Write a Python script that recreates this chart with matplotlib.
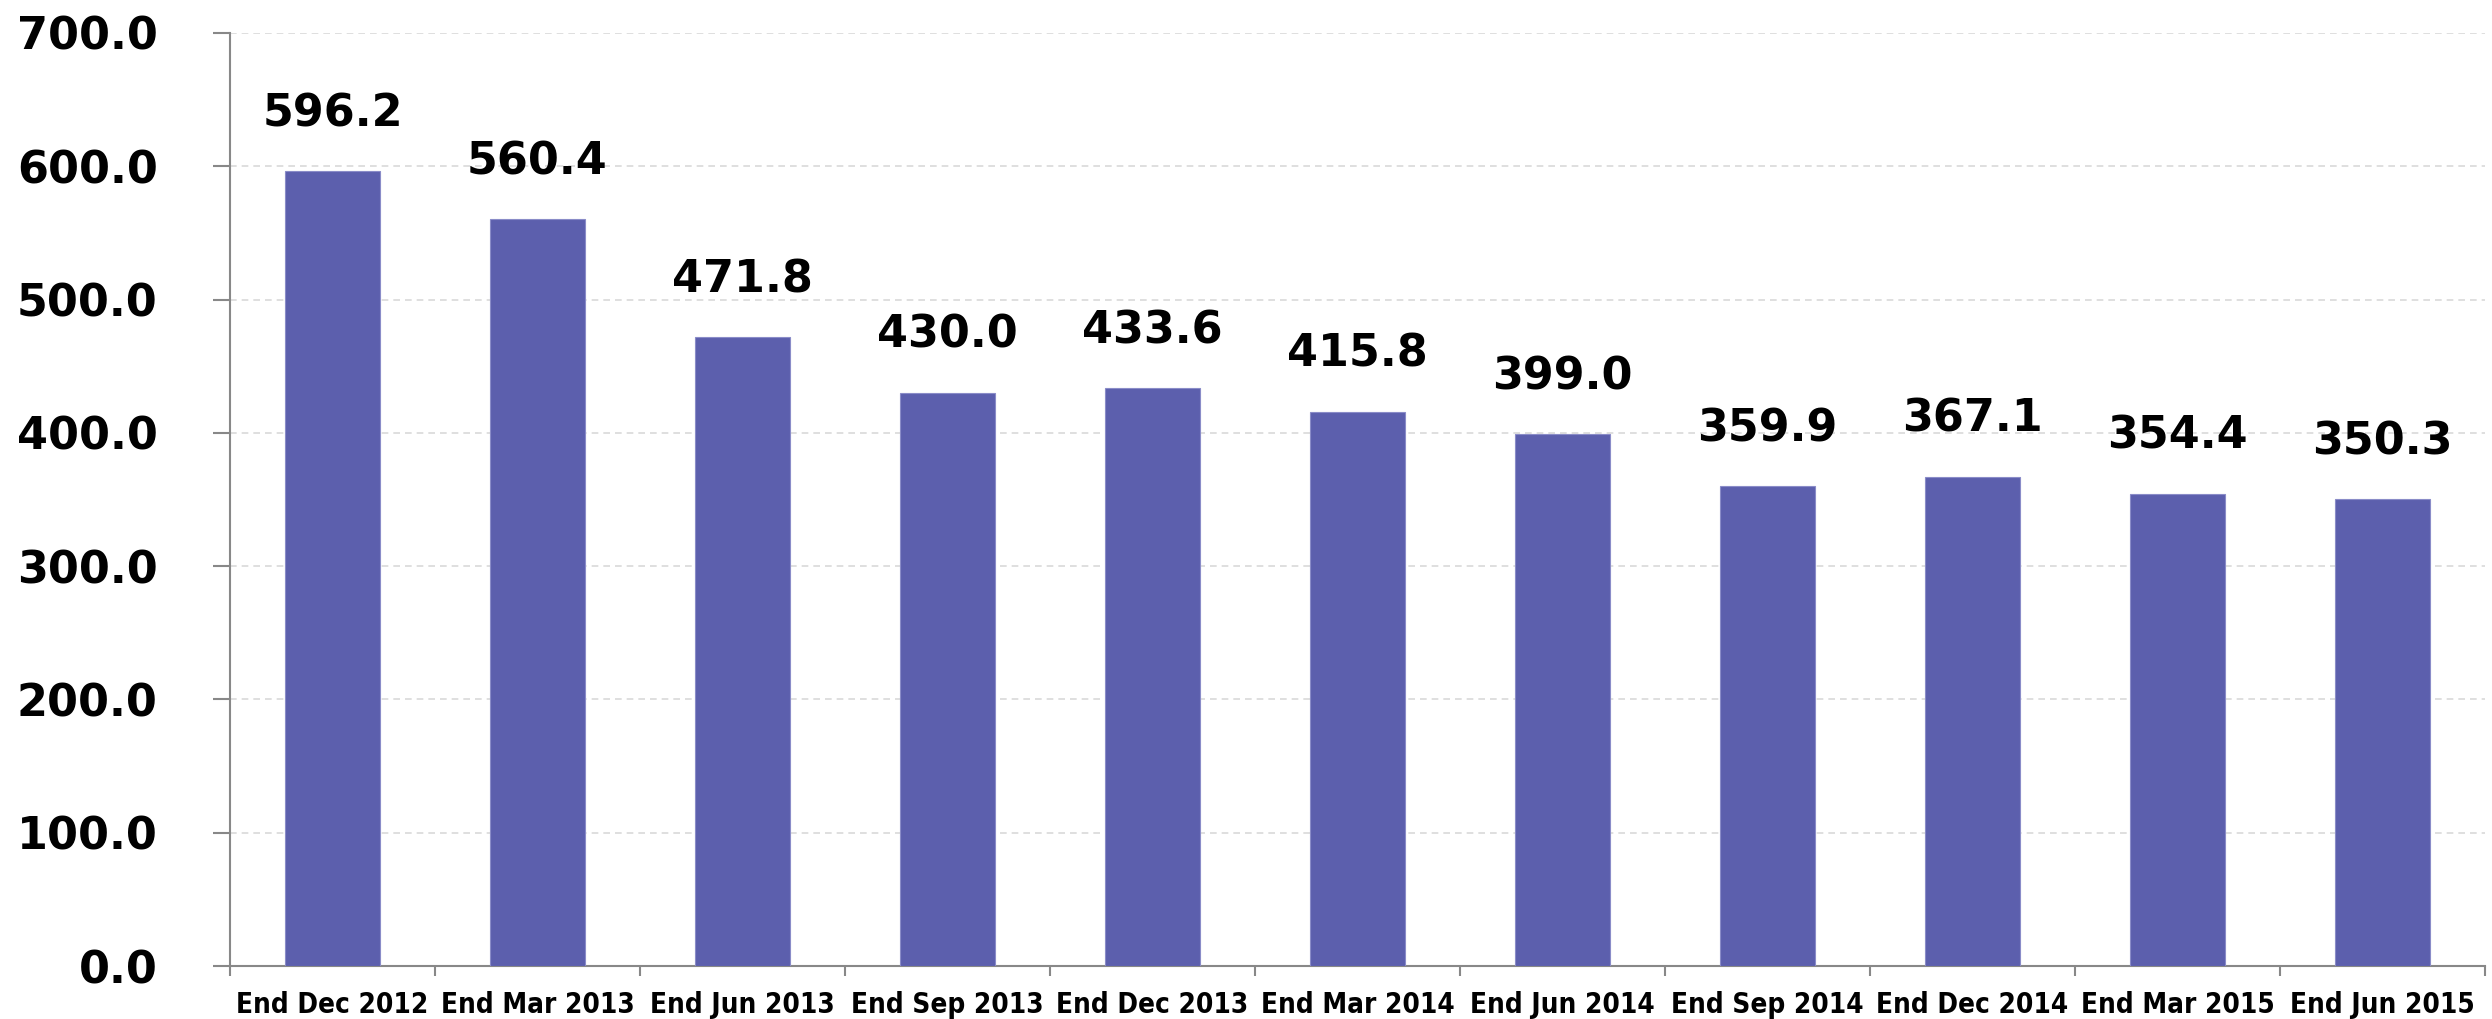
import matplotlib.pyplot as plt
import matplotlib.transforms as mtransforms
import numpy as np

# data
periods = ["End Dec 2012", "End Mar 2013", "End Jun 2013", "End Sep 2013",
           "End Dec 2013", "End Mar 2014", "End Jun 2014", "End Sep 2014",
           "End Dec 2014", "End Mar 2015", "End Jun 2015"]
values = [596.2, 560.4, 471.8, 430.0, 433.6, 415.8, 399.0, 359.9, 367.1, 354.4, 350.3]
yticks = [0, 100, 200, 300, 400, 500, 600, 700]

fig = plt.figure(figsize=(24.92, 10.19), dpi=100)
ax = fig.add_axes([230/2492, 1 - 966/1019, (2485 - 230)/2492, (966 - 33)/1019])

x = np.arange(len(periods))
ax.bar(x, values, width=0.46, color='#5C5FAD', edgecolor='#8a8cc8', linewidth=0.8, zorder=3)

for xi, v in zip(x, values):
    ax.text(xi, v + 27, f"{v:.1f}", ha='center', va='bottom', fontsize=32, fontweight='bold')

ax.set_xlim(-0.5, len(periods) - 0.5)
ax.set_ylim(0, 700)
ax.set_yticks(yticks)
ax.set_yticklabels([f"{t:.1f}" for t in yticks], fontsize=32, fontweight='bold')
ax.yaxis.grid(True, color='#d9d9d9', linestyle=(0, (4, 3)), linewidth=1.2, zorder=0)

# y labels sit a little above their gridlines
up = mtransforms.ScaledTranslation(0, 7/100, fig.dpi_scale_trans)
for lab in ax.get_yticklabels():
    lab.set_transform(lab.get_transform() + up)

# category labels under bars, ticks between categories
ax.set_xticks(x)
ax.set_xticklabels(periods, fontsize=20, fontweight='bold', fontstretch='condensed')
ax.tick_params(axis='x', length=0, pad=18)
ax.set_xticks(np.arange(len(periods) + 1) - 0.5, minor=True)
ax.tick_params(axis='x', which='minor', length=7, color='#888888', width=1.5)
ax.tick_params(axis='y', length=12, color='#888888', width=1.5, pad=40)

for s in ['top', 'right']:
    ax.spines[s].set_visible(False)
for s in ['left', 'bottom']:
    ax.spines[s].set_color('#888888')
    ax.spines[s].set_linewidth(1.5)

plt.savefig("out.png", dpi=100)
